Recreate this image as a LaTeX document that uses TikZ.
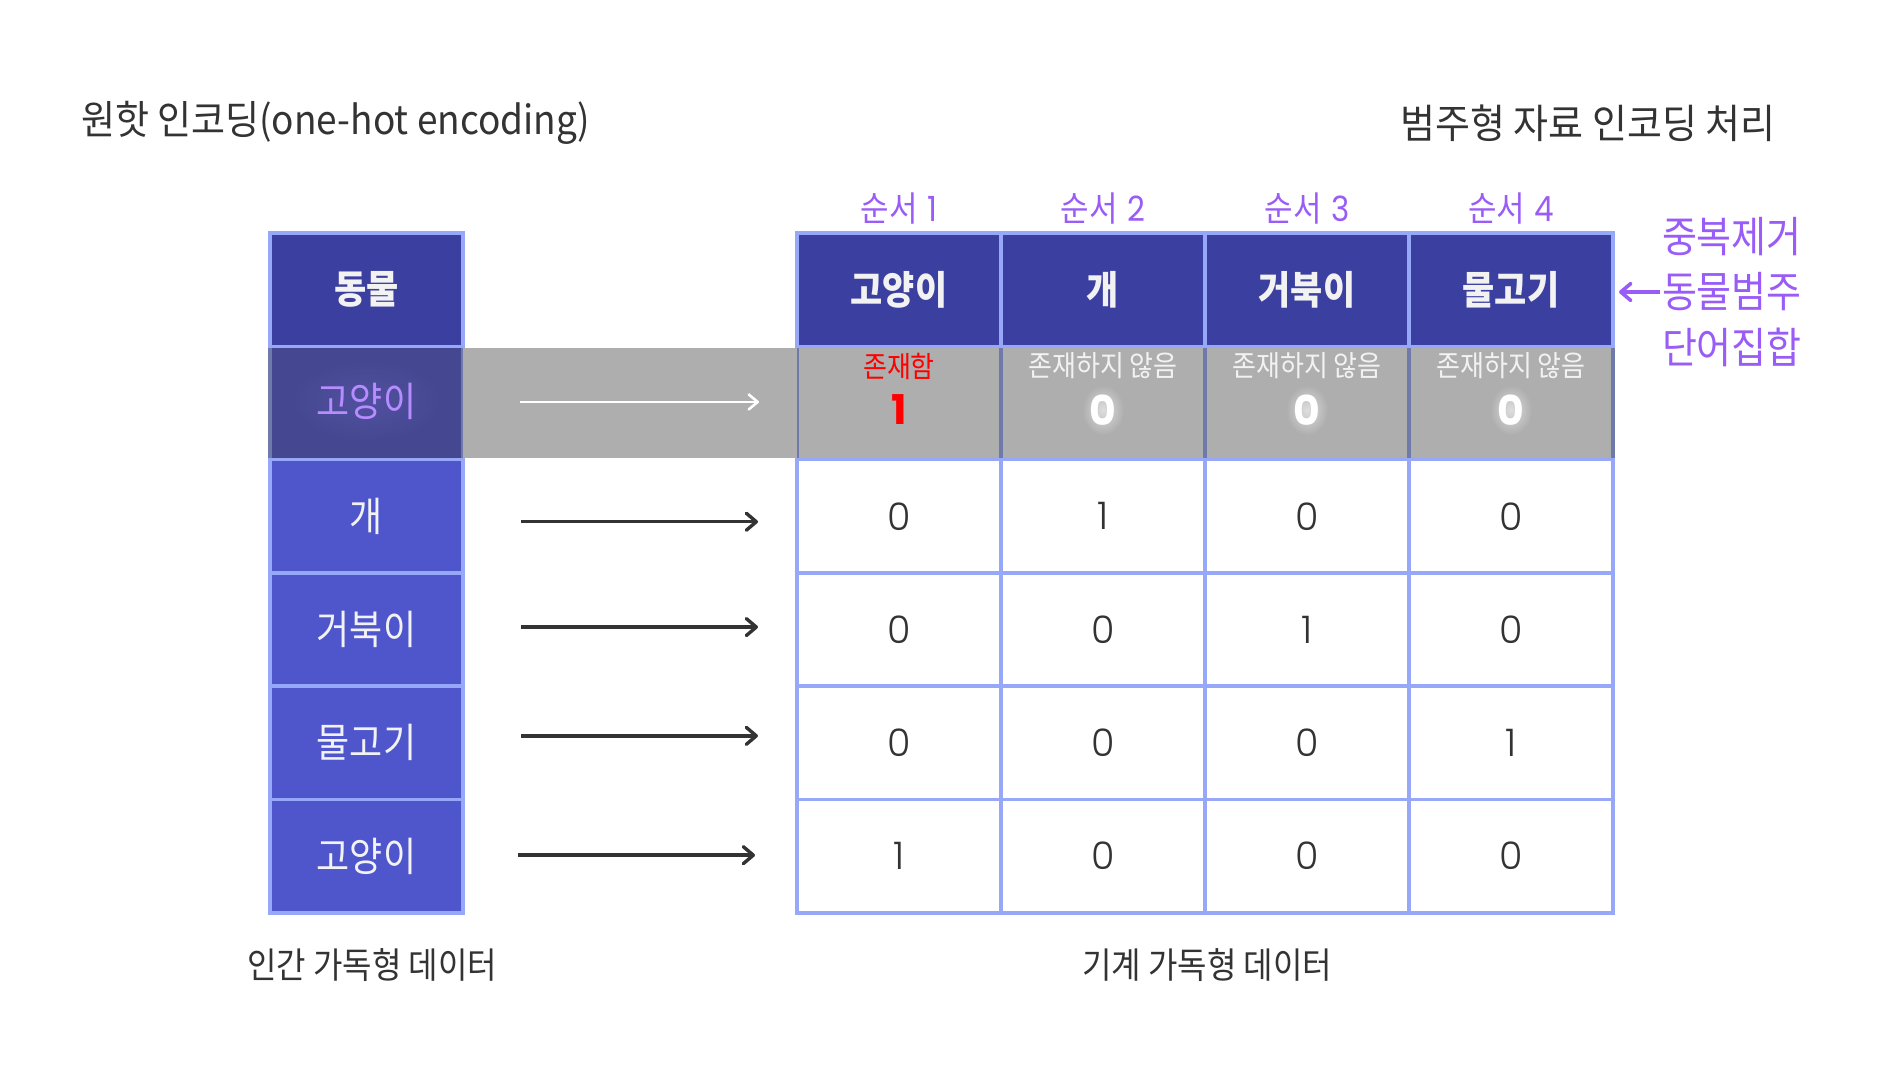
\documentclass[tikz,border=0pt]{standalone}
\usepackage{graphicx}
\usepackage{fontspec}
\setmainfont{Noto Sans CJK KR}
\newfontfamily\pop{Poppins}
\newfontfamily\popl{Poppins Light}
\usetikzlibrary{arrows.meta,calc}
\definecolor{ink}{RGB}{51,51,51}
\definecolor{hd}{RGB}{59,63,159}
\definecolor{bodyc}{RGB}{79,86,204}
\definecolor{bd}{RGB}{152,168,248}
\definecolor{pur}{RGB}{153,92,246}
\definecolor{lpur}{RGB}{182,140,255}
\definecolor{gband}{RGB}{174,174,174}
\definecolor{gleft}{RGB}{69,72,144}
\definecolor{gbd}{RGB}{112,122,170}
\definecolor{wt}{RGB}{242,242,242}
\newcommand{\st}[1]{\scalebox{1}[1.12]{#1}}
\newcommand{\fs}[1]{\fontsize{#1}{#1}\selectfont}
\begin{document}
\begin{tikzpicture}[x=1pt,y=-1pt,
  cellbase/.style={draw=bd, line width=3.5pt, minimum height=113.3pt, inner sep=0pt, outer sep=0pt},
  lcell/.style={cellbase, minimum width=193pt},
  tcell/.style={cellbase, minimum width=204pt, fill=white},
  txt/.style={inner sep=0pt, outer sep=0pt},
  darr/.style={draw=ink, line width=3.4pt, -{Straight Barb[length=10pt,width=17pt,round]}},
  warr/.style={draw=white, line width=2.6pt, -{Straight Barb[length=9pt,width=15pt,round]}},
  parr/.style={draw=pur, line width=3.6pt, -{Straight Barb[length=10pt,width=17pt,round]}}
]
\useasboundingbox (0,0) rectangle (1884,1084);

% titles
\node[txt, anchor=west, text=ink] (title) at (81,123) {\fs{37}\scalebox{1}[1.08]{원핫 인코딩(one-hot encoding)}};
\node[txt, text=ink] (title2) at (1588,123) {\fs{38}\scalebox{1}[1.06]{범주형 자료 인코딩 처리}};

% highlighted (gray) row, drawn first
\node[lcell, draw=gbd, fill=gleft] (L1) at (366.5,402.95) {};
\foreach \c/\x in {1/899,2/1103,3/1307,4/1511}{
  \node[tcell, draw=gbd, fill=gband] (G\c) at (\x,402.95) {};
}
\fill[gband] (463,347.5) rectangle (797,458);

% left column
\node[lcell, fill=hd, text=wt] (L0) at (366.5,289.65) {\fs{35}\st{\bfseries 동물}};
\node[lcell, fill=bodyc, text=wt] (L2) at (366.5,516.25) {\fs{36}\st{개}};
\node[lcell, fill=bodyc, text=wt] (L3) at (366.5,629.55) {\fs{36}\st{거북이}};
\node[lcell, fill=bodyc, text=wt] (L4) at (366.5,742.85) {\fs{36}\st{물고기}};
\node[lcell, fill=bodyc, text=wt] (L5) at (366.5,856.15) {\fs{36}\st{고양이}};

% header of table
\foreach \c/\x/\w in {1/899/고양이,2/1103/개,3/1307/거북이,4/1511/물고기}{
  \node[tcell, fill=hd, text=wt] (H\c) at (\x,289.65) {\fs{35}\st{\bfseries \w}};
  \node[txt, text=pur] (S\c) at (\x,209) {\fs{31}\st{순서\hspace{0.3em}{\pop\c}}};
}

% body
\foreach \r/\y/\a/\b/\cc/\d in {2/516.25/0/1/0/0, 3/629.55/0/0/1/0, 4/742.85/0/0/0/1, 5/856.15/1/0/0/0}{
  \node[tcell, text=ink] (T\r1) at (899,\y) {\popl\fs{38}\a};
  \node[tcell, text=ink] (T\r2) at (1103,\y) {\popl\fs{38}\b};
  \node[tcell, text=ink] (T\r3) at (1307,\y) {\popl\fs{38}\cc};
  \node[tcell, text=ink] (T\r4) at (1511,\y) {\popl\fs{38}\d};
}

% highlighted row texts
\node[txt, text=red] (E1) at (899,366) {\fs{26}\st{존재함}};
\node[txt, text=red] (V1) at (899,410) {\pop\bfseries\fs{41}1};
\foreach \c/\x in {2/1103,3/1307,4/1511}{
  \node[txt, text=wt] (E\c) at (\x,366) {\fs{26}\st{존재하지 않음}};
  \shade[inner color={rgb,255:red,222;green,222;blue,222}, outer color=gband] (\x,410) ellipse (21 and 25);
  \node[txt, text=white] (V\c) at (\x,410) {\pop\bfseries\fs{41}0};
}
\shade[inner color={rgb,255:red,82;green,80;blue,160}, outer color=gleft] (366.5,401) ellipse (75 and 40);
\node[txt, text=lpur] (L1t) at (366.5,401) {\fs{36}\st{고양이}};

% arrows
\draw[warr] ([xshift=57pt,yshift=1pt]L1.east) -- ([xshift=-38pt,yshift=1pt]G1.west);
\draw[darr] ([xshift=58pt,yshift=-5.5pt]L2.east) -- ([xshift=-39pt,yshift=-5.5pt]T21.west);
\draw[darr] ([xshift=58pt,yshift=2.5pt]L3.east) -- ([xshift=-39pt,yshift=2.5pt]T31.west);
\draw[darr] ([xshift=58pt,yshift=7pt]L4.east) -- ([xshift=-39pt,yshift=7pt]T41.west);
\draw[darr] ([xshift=55pt,yshift=1pt]L5.east) -- ([xshift=-42pt,yshift=1pt]T51.west);

% right annotation
\node[txt, anchor=west, text=pur] (n1) at (1662,237) {\fs{38}\st{중복제거}};
\node[txt, anchor=west, text=pur] (n2) at (1662,292) {\fs{38}\st{동물범주}};
\node[txt, anchor=west, text=pur] (n3) at (1662,347) {\fs{38}\st{단어집합}};
\coordinate (ptr) at (1619,292);
\draw[parr] ([xshift=-2pt]n2.west) -- (ptr);

% bottom labels
\node[txt, text=ink] (cap1) at (372,965) {\fs{32}\st{인간 가독형 데이터}};
\node[txt, text=ink] (cap2) at (1207,965) {\fs{32}\st{기계 가독형 데이터}};
\end{tikzpicture}
\end{document}
